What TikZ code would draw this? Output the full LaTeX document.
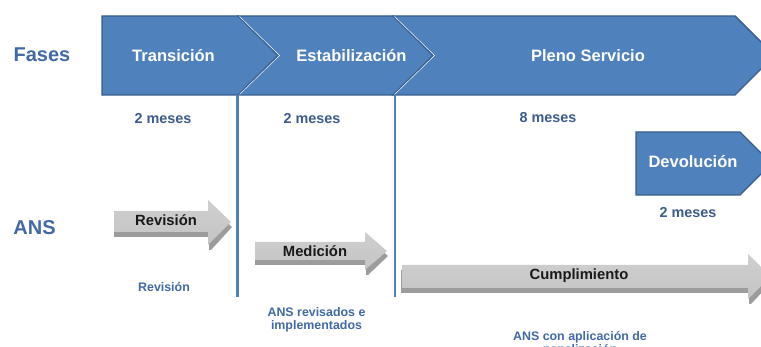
\documentclass[tikz,border=0pt]{standalone}
\usepackage{fontspec}
\setmainfont{Liberation Sans}
\definecolor{phasefill}{HTML}{4F81BD}
\definecolor{phaseline}{HTML}{385D8A}
\definecolor{labelblue}{HTML}{4169A6}
\definecolor{durblue}{HTML}{3C5C8C}
\definecolor{arrowgray}{HTML}{C4C4C4}
\definecolor{arrowgraytop}{HTML}{CFCFCF}
\definecolor{shadowgray}{HTML}{9C9C9C}
\begin{document}
\begin{tikzpicture}[x=1pt,y=-1pt,
  phase/.style={fill=phasefill,draw=phaseline,line width=1.4pt,line join=miter},
  phasetext/.style={text=white,font=\fontsize{16.5}{19}\selectfont\bfseries,anchor=base,inner sep=0pt},
  durtext/.style={text=durblue,font=\fontsize{14.4}{17}\selectfont\bfseries,anchor=base,inner sep=0pt},
  sidelabel/.style={text=labelblue,font=\fontsize{20}{24}\selectfont\bfseries,anchor=base,inner sep=0pt},
  notetext/.style={text=labelblue,font=\fontsize{12.4}{14}\selectfont\bfseries,anchor=base,inner sep=0pt},
  ansarrow/.style={top color=arrowgraytop,bottom color=arrowgray,draw=none},
  ansshadow/.style={fill=shadowgray,draw=none},
  anstext/.style={text=black!90,font=\fontsize{14.8}{17}\selectfont\bfseries,anchor=base,inner sep=0pt},
  divider/.style={draw=phasefill,line width=2.4pt}]
\useasboundingbox (0,0) rectangle (761,347);
\clip (0,0) rectangle (761,347);
\fill[white] (0,0) rectangle (761,347);

% phase chevrons
\path[phase] (393,16) -- (735,16) -- (774.5,55.5) -- (735,95) -- (393,95) -- (433,55.5) -- cycle;
\path[phase] (238,16) -- (393,16) -- (433,55.5) -- (393,95) -- (238,95) -- (278,55.5) -- cycle;
\path[phase] (102,16) -- (238,16) -- (278,55.5) -- (238,95) -- (102,95) -- cycle;
\draw[white,line width=0.5pt] (239.5,16.5) -- (279.5,55.5) -- (239.5,94.5);
\draw[white,line width=0.5pt] (394.5,16.5) -- (434.5,55.5) -- (394.5,94.5);
\path[phase] (636,132) -- (740,132) -- (771.5,163.5) -- (740,195) -- (636,195) -- cycle;

% dividers
\coordinate (d1top) at (237.5,95.5);
\coordinate (d1bot) at (237.5,297);
\coordinate (d2top) at (395,95.5);
\coordinate (d2bot) at (395,297);
\draw[divider] (d1top) -- (d1bot);
\draw[divider] (d2top) -- (d2bot);

% phase texts
\node[phasetext] (transicion) at (173.5,61.7) {Transición};
\node[phasetext] (estabilizacion) at (351.5,61.7) {Estabilización};
\node[phasetext] (pleno) at (588,61.7) {Pleno Servicio};
\node[phasetext] (devolucion) at (693,168) {Devolución};

% durations
\node[durtext] (dur1) at (163,123.3) {2 meses};
\node[durtext] (dur2) at (312,123.3) {2 meses};
\node[durtext] (dur3) at (548,122.7) {8 meses};
\node[durtext] (dur4) at (688,217.5) {2 meses};

% side labels
\node[sidelabel] (fases) at (42,61.7) {Fases};
\node[sidelabel] (ans) at (34.5,235) {ANS};

% ANS arrows: shadows
\path[ansshadow] (114,216) -- (209,216) -- (209,205) -- (232,227) -- (211,250) -- (209,250) -- (209,237) -- (114,237) -- cycle;
\path[ansshadow] (255,247) -- (366,247) -- (366,237) -- (388,256) -- (368,275) -- (366,275) -- (366,265) -- (255,265) -- cycle;
\path[ansshadow] (401,270) -- (749,270) -- (749,259) -- (772,281.5) -- (751,304) -- (749,304) -- (749,293) -- (401,293) -- cycle;
% ANS arrows
\path[ansarrow] (114,211) -- (208,211) -- (208,200) -- (231,222) -- (208,245) -- (208,232) -- (114,232) -- cycle;
\path[ansarrow] (255,242) -- (365,242) -- (365,232) -- (387,251) -- (365,270) -- (365,260) -- (255,260) -- cycle;
\path[ansarrow] (402,265) -- (748,265) -- (748,254) -- (771,276.5) -- (748,299) -- (748,288) -- (402,288) -- cycle;

\node[anstext] (revision) at (166,226) {Revisión};
\node[anstext] (medicion) at (315,256.7) {Medición};
\node[anstext] (cumplimiento) at (579,280) {Cumplimiento};

% notes
\node[notetext] (note1) at (164,291.7) {Revisión};
\node[notetext] (note2a) at (316.5,316.7) {ANS revisados e};
\node[notetext] (note2b) at (316.5,330) {implementados};
\node[notetext] (note3a) at (580,341) {ANS con aplicación de};
\node[notetext] (note3b) at (580,354) {penalización};
\end{tikzpicture}
\end{document}
